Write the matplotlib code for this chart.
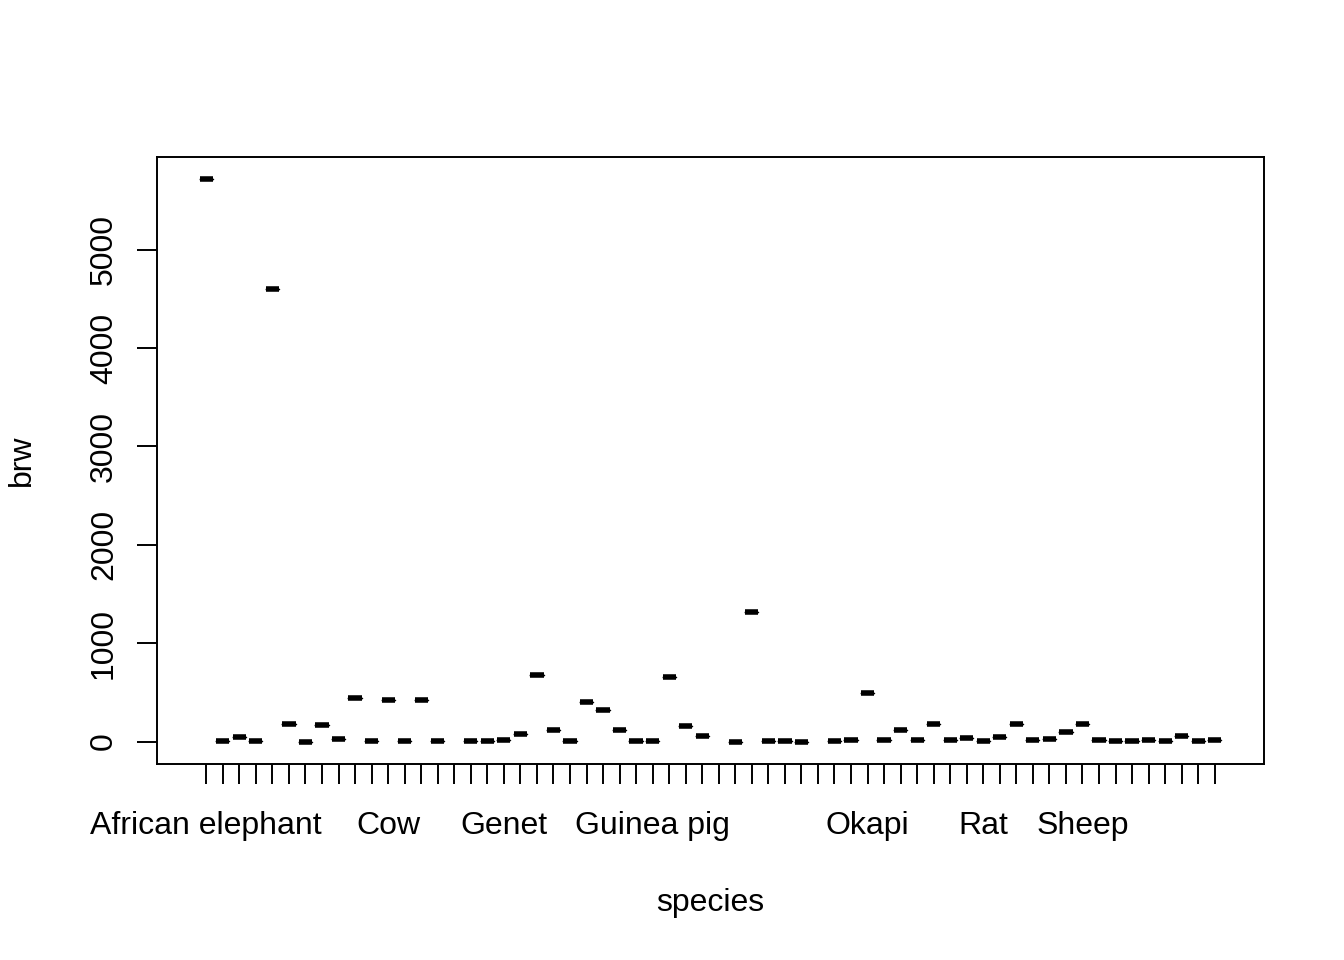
import numpy as np
import matplotlib
matplotlib.use("Agg")
import matplotlib.pyplot as plt

plt.rcParams['font.family'] = ['Liberation Sans', 'DejaVu Sans']

# --- Data: brain weight (g) by species, alphabetical factor levels ---
species = [
    "African elephant", "African giant pouched rat", "Arctic Fox",
    "Arctic ground squirrel", "Asian elephant", "Baboon", "Big brown bat",
    "Brazilian tapir", "Cat", "Chimpanzee", "Chinchilla", "Cow",
    "Desert hedgehog", "Donkey", "Eastern American mole", "Echidna",
    "European hedgehog", "Galago", "Genet", "Giant armadillo", "Giraffe",
    "Goat", "Golden hamster", "Gorilla", "Gray seal", "Gray wolf",
    "Ground squirrel", "Guinea pig", "Horse", "Jaguar", "Kangaroo",
    "Lesser short-tailed shrew", "Little brown bat", "Man", "Mole rat",
    "Mountain beaver", "Mouse", "Musk shrew", "N. American opossum",
    "Nine-banded armadillo", "Okapi", "Owl monkey", "Patas monkey",
    "Phanlanger", "Pig", "Rabbit", "Raccoon", "Rat", "Red fox",
    "Rhesus monkey", "Rock hyrax (Hetero. b)", "Rock hyrax (Procavia hab)",
    "Roe deer", "Sheep", "Slow loris", "Star nosed mole", "Tenrec",
    "Tree hyrax", "Tree shrew", "Vervet", "Water opossum",
    "Yellow-bellied marmot",
]
brw = [
    5712, 6.6, 44.5, 5.7, 4603, 179.5, 0.3, 169, 25.6, 440, 6.4, 423,
    2.4, 419, 1.2, np.nan, 3.5, 5, 17.5, 81, 680, 115, 1, 406, 325, 119.5,
    4, 5.5, 655, 157, 56, np.nan, 0.25, 1320, 3, 8.1, 0.4, np.nan, 6.3,
    10.8, 490, 15.5, 115, 11.4, 180, 12.1, 39.2, 1.9, 50.4, 179, 12.3, 21,
    98.2, 175, 12.5, 1, 2.6, 12.3, 2.5, 58, 3.9, 17,
]
# labels R managed to print without overlap
shown_labels = ["African elephant", "Cow", "Genet", "Guinea pig", "Okapi", "Rat", "Sheep"]

groups = [[] if np.isnan(v) else [v] for v in brw]
pos = np.arange(1, len(species) + 1)

fig = plt.figure(figsize=(13.44, 9.6), dpi=100)
ax = fig.add_axes([157 / 1344, 1 - 764 / 960, (1264 - 157) / 1344, (764 - 157) / 960])

ax.boxplot(groups, positions=pos, widths=0.8, showcaps=False, showfliers=False,
           boxprops=dict(color='black', linewidth=1),
           whiskerprops=dict(color='black', linewidth=1),
           medianprops=dict(color='black', linewidth=4.0, solid_capstyle='butt'),
           manage_ticks=False)

# R-style axis ranges (4% extension)
vals = np.array(brw, dtype=float)
lo, hi = np.nanmin(vals), np.nanmax(vals)
ext = (hi - lo) * 0.04
ax.set_ylim(lo - ext, hi + ext)
xr = (len(species) + 0.5) - 0.5
ax.set_xlim(0.5 - xr * 0.04, len(species) + 0.5 + xr * 0.04)

ax.set_xticks(pos)
ax.set_xticklabels([s if s in shown_labels else "" for s in species])
ax.set_yticks([0, 1000, 2000, 3000, 4000, 5000])
ax.set_yticklabels(["0", "1000", "2000", "3000", "4000", "5000"], rotation=90, va='center')

for sp in ax.spines.values():
    sp.set_linewidth(1.4)
ax.tick_params(axis='both', direction='out', length=14.4, width=1.4, labelsize=23, color='black')
ax.tick_params(axis='x', pad=19.5)
ax.tick_params(axis='y', pad=13)

ax.set_xlabel("species", fontsize=23, va='center')
ax.set_ylabel("brw", fontsize=23, va='center')
ax.xaxis.set_label_coords(0.5, (764 - 903) / 607)
ax.yaxis.set_label_coords((22 - 157) / 1107, 0.5)

fig.savefig("out.png", dpi=100)
